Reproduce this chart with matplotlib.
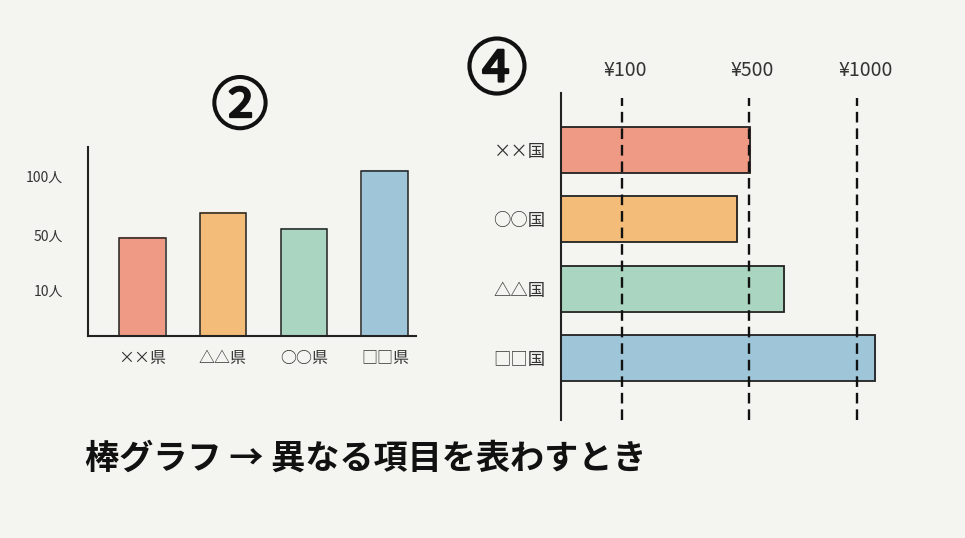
import matplotlib
matplotlib.use('Agg')
import matplotlib.pyplot as plt
import matplotlib.patheffects as pe
import numpy as np

plt.rcParams['font.family'] = ['Noto Sans CJK JP', 'DejaVu Sans']

# left chart
prefectures = ['××県', '△△県', '○○県', '□□県']
people = [48, 69, 55, 105]
people_ticks = [10, 50, 100]
people_labels = ['10人', '50人', '100人']

# right chart
countries = ['××国', '○○国', '△△国', '□□国']
yen = [505, 462, 662, 1109]
yen_ticks = [100, 500, 1000]
yen_labels = ['¥100', '¥500', '¥1000']

colors = ['#EE9A85', '#F3BC78', '#A9D5C1', '#9EC6D8']
ink = '#222222'
paper = '#F4F4F0'
W, H = 965, 538


def px_axes(fig, left, top, right, bottom):
    return fig.add_axes([left / W, 1 - bottom / H, (right - left) / W, (bottom - top) / H])


def drawn_scale(values, pixels):
    # the axes in the sketch are not linear, the scale follows the drawn ticks
    return (lambda v: np.interp(v, values, pixels),
            lambda p: np.interp(p, pixels, values))


fig = plt.figure(figsize=(W / 100, H / 100), dpi=100, facecolor=paper)

# (2) vertical bars
ax = px_axes(fig, 88, 147, 416, 336)
ax.set_facecolor('none')
ax.set_yscale('function', functions=drawn_scale([0, 10, 50, 100, 130], [0, 46, 101, 160, 189]))
x = np.arange(len(prefectures))
ax.bar(x, people, width=0.55, color=colors, edgecolor=colors, linewidth=1.5)
ax.bar(x, people, width=0.58, facecolor='none', edgecolor=ink, linewidth=1.1)
ax.set_xlim(-0.667, 3.383)
ax.set_ylim(0, 130)
ax.set_xticks(x, prefectures, fontsize=11.5, color='#333333')
ax.set_yticks(people_ticks, people_labels, fontsize=10, color='#333333')
ax.minorticks_off()
ax.tick_params(axis='x', length=0, pad=10)
ax.tick_params(axis='y', length=0, pad=18)
for side in ['top', 'right']:
    ax.spines[side].set_visible(False)
for side in ['left', 'bottom']:
    ax.spines[side].set_color(ink)
    ax.spines[side].set_linewidth(1.5)

# (4) horizontal bars
ax2 = px_axes(fig, 561, 93, 890, 420)
ax2.set_facecolor('none')
ax2.set_xscale('function', functions=drawn_scale([0, 100, 500, 1000, 1200], [0, 61, 188, 296, 329]))
y = np.arange(len(countries))
ax2.barh(y, yen, height=0.63, color=colors, edgecolor=colors, linewidth=1.5)
ax2.barh(y, yen, height=0.66, facecolor='none', edgecolor=ink, linewidth=1.3)
ax2.set_xlim(0, 1200)
ax2.set_ylim(3.895, -0.823)
ax2.set_yticks(y, countries, fontsize=12.5, color='#333333')
ax2.set_xticks([])
ax2.minorticks_off()
ax2.tick_params(axis='y', length=0, pad=11)
for val, lab in zip(yen_ticks, yen_labels):
    ax2.axvline(val, ymax=0.985, color='#111111', linewidth=1.7, linestyle=(0, (4.5, 2.5)))
    ax2.annotate(lab, (val, 1), xycoords=ax2.get_xaxis_transform(), xytext=(-13, 16),
                 textcoords='offset points', ha='left', va='center', fontsize=14, color='#333333')
for side in ['top', 'right', 'bottom']:
    ax2.spines[side].set_visible(False)
ax2.spines['left'].set_color(ink)
ax2.spines['left'].set_linewidth(1.5)

heavy = [pe.withStroke(linewidth=1.6, foreground='#111111')]
fig.text(240 / W, 1 - 108 / H, '②', fontsize=41, color='#111111', ha='center', va='center',
         path_effects=heavy)
fig.text(497 / W, 1 - 72 / H, '④', fontsize=44, color='#111111', ha='center', va='center',
         path_effects=heavy)
fig.text(85 / W, 1 - 458 / H, '棒グラフ → 異なる項目を表わすとき', fontsize=24.6, color='#111111',
         ha='left', va='center', fontweight='bold')

fig.savefig('out.png', dpi=100, facecolor=paper)
